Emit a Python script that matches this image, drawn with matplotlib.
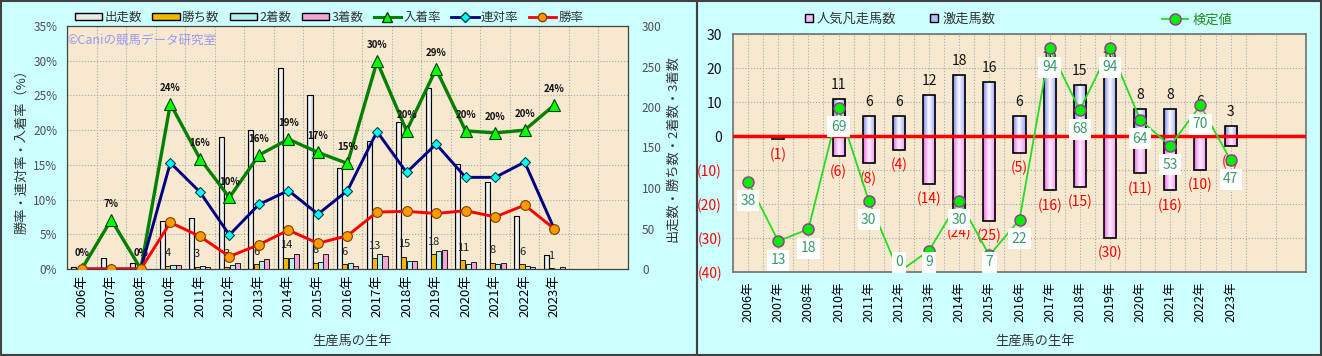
import numpy as np
import matplotlib
matplotlib.use('Agg')
import matplotlib.pyplot as plt
from matplotlib.colors import LinearSegmentedColormap
from matplotlib.patches import Patch, Rectangle
from matplotlib.lines import Line2D

plt.rcParams['font.family'] = ['Noto Sans CJK JP', 'DejaVu Sans']

# ---- data ----
years = ['2006年', '2007年', '2008年', '2010年', '2011年', '2012年', '2013年', '2014年', '2015年',
         '2016年', '2017年', '2018年', '2019年', '2020年', '2021年', '2022年', '2023年']
n_slots = 19

starts = [3, 14, 8, 59, 63, 163, 172, 248, 215, 125, 158, 181, 224, 130, 107, 65, 17]
wins = [0, 0, 0, 4, 3, 3, 6, 14, 8, 6, 13, 15, 18, 11, 8, 6, 1]
seconds = [0, 0, 0, 5, 4, 5, 10, 14, 9, 8, 18, 10, 22, 6, 6, 4, 0]
thirds = [0, 1, 0, 5, 3, 7, 12, 18, 19, 4, 16, 10, 24, 9, 7, 3, 3]

top3_rate = [0, 7.1, 0, 23.8, 15.9, 10.3, 16.4, 18.7, 16.8, 15.2, 29.9, 19.9, 28.8, 19.9, 19.6, 20.0, 23.6]
rentai_rate = [0, 0, 0, 15.3, 11.1, 4.9, 9.3, 11.3, 7.9, 11.3, 19.8, 13.9, 18.0, 13.2, 13.2, 15.4, 5.8]
win_rate = [0, 0, 0, 6.7, 4.7, 1.8, 3.5, 5.6, 3.7, 4.8, 8.2, 8.3, 8.0, 8.4, 7.5, 9.2, 5.8]

gekiso = [0, 0, 0, 11, 6, 6, 12, 18, 16, 6, 19, 15, 19, 8, 8, 6, 3]
bonso = [0, 1, 0, 6, 8, 4, 14, 24, 25, 5, 16, 15, 30, 11, 16, 10, 3]
kentei = [38, 13, 18, 69, 30, 0, 9, 30, 7, 22, 94, 68, 94, 64, 53, 70, 47]

W, H = 1322, 356
BG = '#CCFFFF'
PLOT_BG = '#F6E9CF'
GRID = dict(color='#A8A8A8', linestyle=':', linewidth=0.8)

x = np.arange(len(years))


def grad_bars(ax, bars, stops, z):
    cmap = LinearSegmentedColormap.from_list('g', stops)
    grad = np.linspace(0, 1, 64).reshape(1, -1)
    for b in bars:
        h = b.get_height()
        if h == 0:
            continue
        x0, y0, w = b.get_x(), b.get_y(), b.get_width()
        im = ax.imshow(grad, extent=[x0, x0 + w, min(y0, y0 + h), max(y0, y0 + h)],
                       aspect='auto', cmap=cmap, zorder=z, interpolation='bilinear')
        im.set_clip_path(b)


fig = plt.figure(figsize=(W / 100, H / 100), dpi=100, facecolor=BG)

# ================= left chart =================
axB = fig.add_axes([67 / W, 1 - 269 / H, 561 / W, 243 / H])
axB.set_facecolor(PLOT_BG)
axL = axB.twinx()
axB.yaxis.tick_right()
axB.yaxis.set_label_position('right')
axL.yaxis.tick_left()
axL.yaxis.set_label_position('left')

bw = 0.17
offs = [-0.27, -0.09, 0.09, 0.27]
b_st = axB.bar(x + offs[0], starts, bw, facecolor='none', edgecolor='black', linewidth=0.8, zorder=3)
grad_bars(axB, b_st, [(0, '#A8A8A8'), (0.45, '#FFFFFF'), (1, '#C8C8C8')], 2.5)
axB.bar(x + offs[1], wins, bw, color='#F2B800', edgecolor='black', linewidth=0.6, zorder=3)
axB.bar(x + offs[2], seconds, bw, color='#B4F0F0', edgecolor='black', linewidth=0.6, zorder=3)
axB.bar(x + offs[3], thirds, bw, color='#F4A6D6', edgecolor='black', linewidth=0.6, zorder=3)
for xi, w in zip(x, wins):
    if w > 0:
        axB.annotate(str(w), (xi + offs[1], w), xytext=(0, 9), textcoords='offset points',
                     ha='center', va='center', fontsize=8, color='#222222', zorder=4)

axB.set_xlim(-0.5, n_slots - 0.5)
axB.set_ylim(0, 300)
axB.set_yticks(np.arange(0, 301, 50))
axB.set_yticks(np.linspace(0, 300, 8), minor=True)
axB.set_xticks(x)
axB.set_xticklabels(years, rotation=90, fontsize=9.5)
axB.set_xticks(np.arange(0.5, n_slots - 0.5, 1), minor=True)
axB.grid(which='minor', **GRID)
axB.grid(which='major', visible=False)
axB.tick_params(axis='x', which='both', length=0, pad=4)
axB.tick_params(axis='y', which='both', length=0, pad=10, labelsize=8.5, labelcolor='#505050')
for s in axB.spines.values():
    s.set_color('#404040')

axL.plot(x, top3_rate, color='#008000', lw=2.4, marker='^', ms=8.5, mfc='#00FF00', mec='#004000', mew=0.8, zorder=3)
axL.plot(x, rentai_rate, color='#000080', lw=2.1, marker='D', ms=5.5, mfc='#00FFFF', mec='#004040', mew=0.8, zorder=4)
axL.plot(x, win_rate, color='#FF0000', lw=2.1, marker='o', ms=7, mfc='#FF9900', mec='#804000', mew=0.8, zorder=5)
for xi, r in zip(x, top3_rate):
    axL.annotate(f'{r:.0f}%', (xi, r), xytext=(0, 11.5), textcoords='offset points',
                 ha='center', va='center', fontsize=7, fontweight='bold', color='#111111')
axL.set_ylim(0, 35)
axL.set_yticks(np.arange(0, 36, 5))
axL.set_yticklabels([f'{v}%' for v in range(0, 36, 5)])
axL.tick_params(axis='y', length=0, pad=7, labelsize=8.5, labelcolor='#505050')
for s in axL.spines.values():
    s.set_color('#404040')
axL.text(0.0, 0.94, '©Caniの競馬データ研究室', transform=axL.transAxes, fontsize=9,
         color='#9A9AF0', va='center', ha='left')

fig.text(22 / W, 1 - 148 / H, '勝率・連対率・入着率（%）', rotation=90, ha='center', va='center',
         fontsize=9.5, color='#333333')
fig.text(673 / W, 1 - 148 / H, '出走数・勝ち数・2着数・3着数', rotation=90, ha='center', va='center',
         fontsize=9.5, color='#333333')
fig.text(352 / W, 1 - 341 / H, '生産馬の生年', ha='center', va='center', fontsize=9.5, color='#333333')

hl = [Patch(facecolor='#E8E8E8', edgecolor='black', label='出走数'),
      Patch(facecolor='#F2B800', edgecolor='black', label='勝ち数'),
      Patch(facecolor='#B4F0F0', edgecolor='black', label='2着数'),
      Patch(facecolor='#F4A6D6', edgecolor='black', label='3着数'),
      Line2D([0], [0], color='#008000', lw=2.2, marker='^', ms=7, mfc='#00FF00', mec='#004000', label='入着率'),
      Line2D([0], [0], color='#000080', lw=2.0, marker='D', ms=5, mfc='#00FFFF', mec='#004040', label='連対率'),
      Line2D([0], [0], color='#FF0000', lw=2.0, marker='o', ms=6, mfc='#FF9900', mec='#804000', label='勝率')]
leg = fig.legend(handles=hl, loc='center', bbox_to_anchor=(329 / W, 1 - 17 / H), ncol=7, frameon=False,
                 fontsize=9, handlelength=2.2, handleheight=0.5, handletextpad=0.2, columnspacing=0.8)
for t in leg.get_texts():
    t.set_color('#333333')

# ================= right chart =================
axR = fig.add_axes([733 / W, 1 - 272 / H, 573 / W, 238 / H])
axR.set_facecolor(PLOT_BG)
neg = [-v for v in bonso]
rb = 0.4
b_g = axR.bar(x, gekiso, rb, facecolor='none', edgecolor='black', linewidth=1.2, zorder=3)
grad_bars(axR, b_g, [(0, '#7C86F8'), (0.45, '#FFFFFF'), (1, '#959CFA')], 2.5)
b_b = axR.bar(x, neg, rb, facecolor='none', edgecolor='black', linewidth=1.2, zorder=3)
grad_bars(axR, b_b, [(0, '#EE6AEE'), (0.45, '#FFF0FF'), (1, '#F38EF3')], 2.5)
for xi, g, b in zip(x, gekiso, bonso):
    if g > 0:
        axR.annotate(str(g), (xi, g), xytext=(0, 10), textcoords='offset points',
                     ha='center', va='center', fontsize=10, color='#111111', zorder=4)
    if b > 0:
        axR.annotate(f'({b})', (xi, -b), xytext=(0, -11), textcoords='offset points',
                     ha='center', va='center', fontsize=10, color='#FF0000', zorder=4)
axR.axhline(0, color='#FF0000', lw=2.5, zorder=4)
axR.set_xlim(-0.5, n_slots - 0.5)
axR.set_ylim(-40, 30)
yt = list(range(-40, 31, 10))
axR.set_yticks(yt)
axR.set_yticklabels([str(v) if v >= 0 else f'({-v})' for v in yt])
for lbl, v in zip(axR.get_yticklabels(), yt):
    lbl.set_color('#FF0000' if v < 0 else '#111111')
axR.set_xticks(x)
axR.set_xticklabels(years, rotation=90, fontsize=9)
axR.set_xticks(np.arange(0.5, n_slots - 0.5, 1), minor=True)
axR.grid(which='both', **GRID)
axR.tick_params(axis='x', which='both', length=0, pad=7)
axR.tick_params(axis='y', length=0, pad=8, labelsize=10)
for s in axR.spines.values():
    s.set_color('#707070')
    s.set_linewidth(1.2)

axK = axR.twinx()
axK.set_ylim(0, 100)
axK.set_yticks([])
for s in axK.spines.values():
    s.set_visible(False)
axK.plot(x, kentei, color='#22DD22', lw=1.3, marker='o', ms=8, mfc='#00EE00', mec='#993399', mew=1.0,
         zorder=3)
for xi, k in zip(x, kentei):
    axK.text(xi, max(k - 8, 4), str(k), ha='center', va='center', fontsize=10, color='#3A9A6A', zorder=6,
             bbox=dict(boxstyle='square,pad=0.25', facecolor='white', edgecolor='none'))

fig.text(1035 / W, 1 - 341 / H, '生産馬の生年', ha='center', va='center', fontsize=9.5, color='#333333')
hr = [Patch(facecolor='#F7B8F7', edgecolor='black', label='人気凡走馬数'),
      Patch(facecolor='#B8BEFC', edgecolor='black', label='激走馬数')]
leg2 = fig.legend(handles=hr, loc='center', bbox_to_anchor=(900 / W, 1 - 19 / H), ncol=2, frameon=False,
                  fontsize=9.5, handlelength=0.6, handleheight=0.6, handletextpad=0.3, columnspacing=2.6)
for t in leg2.get_texts():
    t.set_color('#333333')
leg3 = fig.legend(handles=[Line2D([0], [0], color='#22DD22', lw=1.3, marker='o', ms=8, mfc='#00EE00',
                                  mec='#993399', label='検定値')],
                  loc='center', bbox_to_anchor=(1197 / W, 1 - 20 / H), frameon=False, fontsize=9.5,
                  handlelength=2.0, handletextpad=0.3)
for t in leg3.get_texts():
    t.set_color('#228B22')

# panel borders
fig.patches.append(Rectangle((0.001, 0.002), 697 / W - 0.001, 0.996, transform=fig.transFigure,
                             fill=False, edgecolor='#404040', lw=1.5))
fig.patches.append(Rectangle((697 / W, 0.002), 1 - 697 / W - 0.001, 0.996, transform=fig.transFigure,
                             fill=False, edgecolor='#404040', lw=1.5))

fig.savefig('out.png', dpi=100, facecolor=BG)
